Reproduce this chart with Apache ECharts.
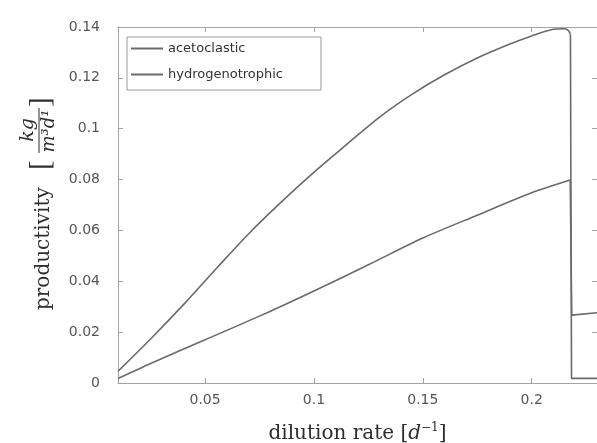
<!DOCTYPE html>
<html>
<head>
<meta charset="utf-8">
<script src="https://cdn.jsdelivr.net/npm/echarts@6/dist/echarts.min.js"></script>
<style>
html,body{margin:0;padding:0;background:#fff;}
#chart{width:597px;height:443px;}
</style>
</head>
<body>
<div id="chart"></div>
<script>
// ---- data ----
const seriesNames = ['acetoclastic', 'hydrogenotrophic'];

// smooth rising part
const acetoX = [0.01, 0.0253, 0.0406, 0.0559, 0.0706, 0.0858, 0.1011, 0.1164, 0.1300, 0.1450, 0.1600, 0.1750, 0.1900, 0.2000, 0.2100, 0.2150, 0.2170, 0.2178];
const acetoY = [0.0046, 0.0176, 0.0313, 0.0457, 0.0592, 0.0718, 0.0837, 0.0948, 0.1045, 0.1135, 0.1212, 0.1278, 0.1333, 0.1365, 0.1391, 0.1393, 0.1385, 0.1370];
// collapse (washout) part
const acetoDropX = [0.2178, 0.2183, 0.2300];
const acetoDropY = [0.1370, 0.0018, 0.0018];

const hydroX = [0.01, 0.025, 0.05, 0.075, 0.1, 0.125, 0.15, 0.175, 0.2, 0.2177];
const hydroY = [0.0018, 0.0077, 0.0170, 0.0263, 0.0362, 0.0465, 0.0570, 0.0660, 0.0748, 0.0798];
const hydroDropX = [0.2177, 0.2184, 0.2300];
const hydroDropY = [0.0798, 0.0267, 0.0276];

const xTickLabels = [0.05, 0.1, 0.15, 0.2];
const yTickLabels = [0, 0.02, 0.04, 0.06, 0.08, 0.1, 0.12, 0.14];

const xMin = 0.01, xMax = 0.23, yMin = 0, yMax = 0.14, yStep = 0.02;

// ---- chart ----
const AXIS = '#a3a3a3';
const LINE = '#6a6a6a';
const TXT = '#555555';
const TITLE = '#2e2e2e';

function pairs(xs, ys) { return xs.map((x, i) => [x, ys[i]]); }

const chart = echarts.init(document.getElementById('chart'), null, {renderer: 'canvas'});

const baseAxis = {
  type: 'value',
  axisLine: {show: true, onZero: false, lineStyle: {color: AXIS, width: 1}},
  axisTick: {show: true, inside: true, length: 5, lineStyle: {color: AXIS, width: 1}},
  splitLine: {show: false},
  minorTick: {show: false}
};

function lineSeries(name, data, smooth) {
  return {
    name: name, type: 'line', xAxisIndex: 0, yAxisIndex: 0,
    data: data, symbol: 'none', showSymbol: false, smooth: smooth,
    lineStyle: {color: LINE, width: 1.6}, itemStyle: {color: LINE}, clip: true
  };
}

const option = {
  animation: false,
  backgroundColor: '#ffffff',
  grid: {left: 118, top: 27, right: 0, bottom: 60, containLabel: false, outerBoundsMode: 'none'},
  legend: {
    data: seriesNames,
    orient: 'vertical',
    left: 127,
    top: 37,
    icon: 'rect',
    itemWidth: 32,
    itemHeight: 2,
    itemGap: 13,
    padding: [5, 38, 9, 4],
    borderColor: '#9a9a9a',
    borderWidth: 1,
    textStyle: {fontFamily: '"DejaVu Sans"', fontSize: 13, color: '#333'}
  },
  xAxis: [
    Object.assign({}, baseAxis, {
      position: 'bottom',
      min: xMin, max: xMax,
      axisLabel: {
        color: TXT, fontFamily: '"DejaVu Sans"', fontSize: 14, margin: 10,
        showMinLabel: false, showMaxLabel: false,
        formatter: function (v) {
          const hit = xTickLabels.find(t => Math.abs(t - v) < 1e-9);
          return hit === undefined ? '' : String(hit);
        }
      },
      name: '{t|dilution rate [}{i|d}{s|−1}{t|]}',
      nameLocation: 'middle',
      nameGap: 39,
      nameTextStyle: {
        rich: {
          t: {fontFamily: '"DejaVu Serif"', fontSize: 20, color: TITLE, lineHeight: 24},
          i: {fontFamily: '"DejaVu Serif"', fontStyle: 'italic', fontSize: 20, color: TITLE, lineHeight: 24},
          s: {fontFamily: '"DejaVu Serif"', fontSize: 12, color: TITLE, verticalAlign: 'top', lineHeight: 12}
        }
      }
    }),
    Object.assign({}, baseAxis, {
      position: 'top',
      min: xMin, max: xMax,
      axisLabel: {show: false}
    })
  ],
  yAxis: [
    Object.assign({}, baseAxis, {
      position: 'left',
      min: yMin, max: yMax, interval: yStep,
      axisLabel: {
        color: TXT, fontFamily: '"DejaVu Sans"', fontSize: 14, margin: 18,
        padding: [0, 0, 7, 0],
        formatter: function (v) {
          const hit = yTickLabels.find(t => Math.abs(t - v) < 1e-9);
          return hit === undefined ? '' : String(hit);
        }
      }
    }),
    Object.assign({}, baseAxis, {
      position: 'right',
      min: yMin, max: yMax, interval: yStep,
      axisLabel: {show: false}
    })
  ],
  series: [
    lineSeries(seriesNames[0], pairs(acetoX, acetoY), 0.3),
    lineSeries(seriesNames[0], pairs(acetoDropX, acetoDropY), false),
    lineSeries(seriesNames[1], pairs(hydroX, hydroY), 0.3),
    lineSeries(seriesNames[1], pairs(hydroDropX, hydroDropY), false)
  ],
  graphic: [
    {
      type: 'group', x: 44, y: 310, rotation: Math.PI / 2, silent: true,
      children: [
        {type: 'text', x: 0, y: 0, style: {text: 'productivity', font: '20px "DejaVu Serif"', fill: TITLE, align: 'left', verticalAlign: 'middle'}},
        {type: 'text', x: 140, y: -3, style: {text: '[', font: '29px "Liberation Serif"', fill: TITLE, align: 'left', verticalAlign: 'middle'}},
        {type: 'line', shape: {x1: 157, y1: -5, x2: 202, y2: -5}, style: {stroke: TITLE, lineWidth: 1}},
        {type: 'text', x: 180, y: -6, style: {text: 'kg', font: 'italic 19px "DejaVu Serif"', fill: TITLE, align: 'center', verticalAlign: 'bottom'}},
        {type: 'text', x: 179, y: -4, style: {text: 'm³d¹', font: 'italic 18px "DejaVu Serif"', fill: TITLE, align: 'center', verticalAlign: 'top'}},
        {type: 'text', x: 203, y: -3, style: {text: ']', font: '29px "Liberation Serif"', fill: TITLE, align: 'left', verticalAlign: 'middle'}}
      ]
    }
  ]
};

chart.setOption(option);
</script>
</body>
</html>
